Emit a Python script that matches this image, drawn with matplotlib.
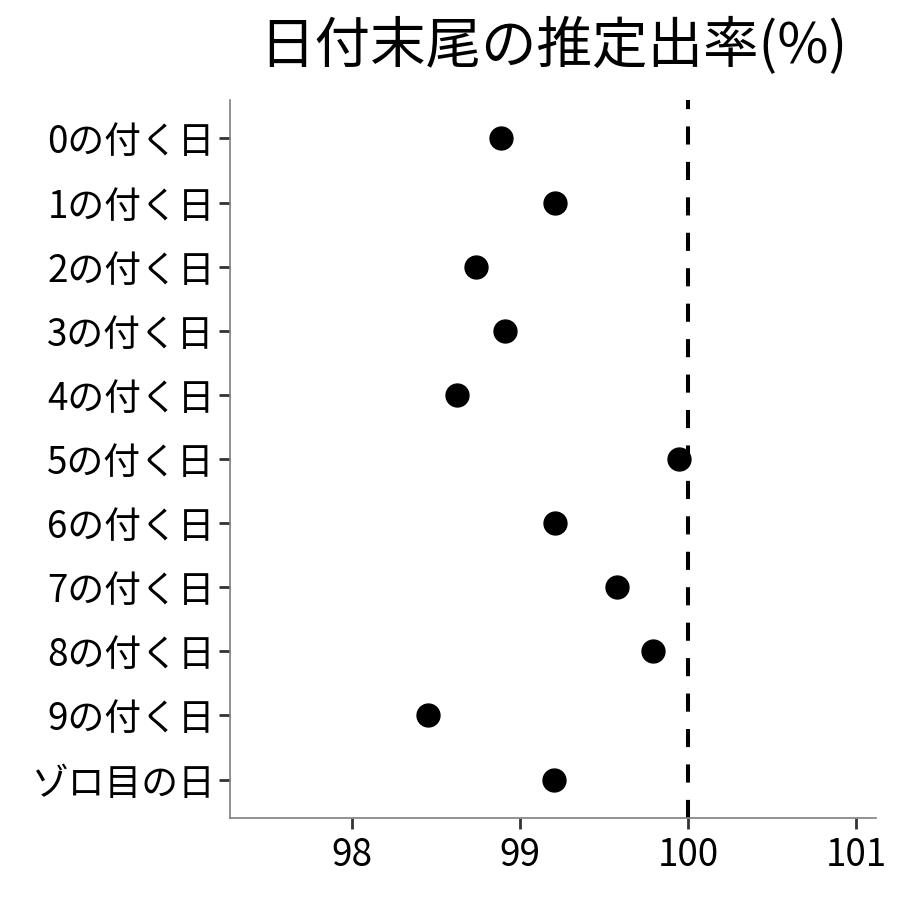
import matplotlib
matplotlib.use("Agg")
import matplotlib.pyplot as plt

plt.rcParams['font.family'] = ['Noto Sans CJK JP', 'DejaVu Sans']

categories = ["0の付く日", "1の付く日", "2の付く日", "3の付く日", "4の付く日",
              "5の付く日", "6の付く日", "7の付く日", "8の付く日", "9の付く日", "ゾロ目の日"]
values = [98.89, 99.21, 98.74, 98.91, 98.625, 99.95, 99.21, 99.58, 99.79, 98.45, 99.20]
xticks = [98, 99, 100, 101]
title = "日付末尾の推定出率(%)"

fig = plt.figure(figsize=(9, 9), dpi=100)
ax = fig.add_axes([0.2556, 0.0911, 0.9733 - 0.2556, 0.8889 - 0.0911])

ypos = list(range(len(categories)))[::-1]
ax.axvline(100, color='black', lw=2.9, linestyle=(0, (4.5, 4.3)), zorder=1)
ax.plot(values, ypos, 'o', color='black', markersize=16.5, zorder=2, linestyle='none')

ax.set_yticks(ypos)
ax.set_yticklabels(categories)
ax.set_xticks(xticks)
ax.set_xticklabels([str(t) for t in xticks])
ax.set_xlim(97.274, 101.12)
ax.set_ylim(-0.6, len(categories) - 1 + 0.6)

for s in ['top', 'right']:
    ax.spines[s].set_visible(False)
for s in ['left', 'bottom']:
    ax.spines[s].set_color('#7f7f7f')
    ax.spines[s].set_linewidth(1.2)

ax.tick_params(axis='both', colors='#333333', width=2, length=8, labelsize=26.5, labelcolor='black')
ax.tick_params(axis='y', pad=3)
ax.tick_params(axis='x', pad=5)

fig.text(0.615, 0.948, title, ha='center', va='center', fontsize=40)

fig.savefig("out.png", dpi=100)
